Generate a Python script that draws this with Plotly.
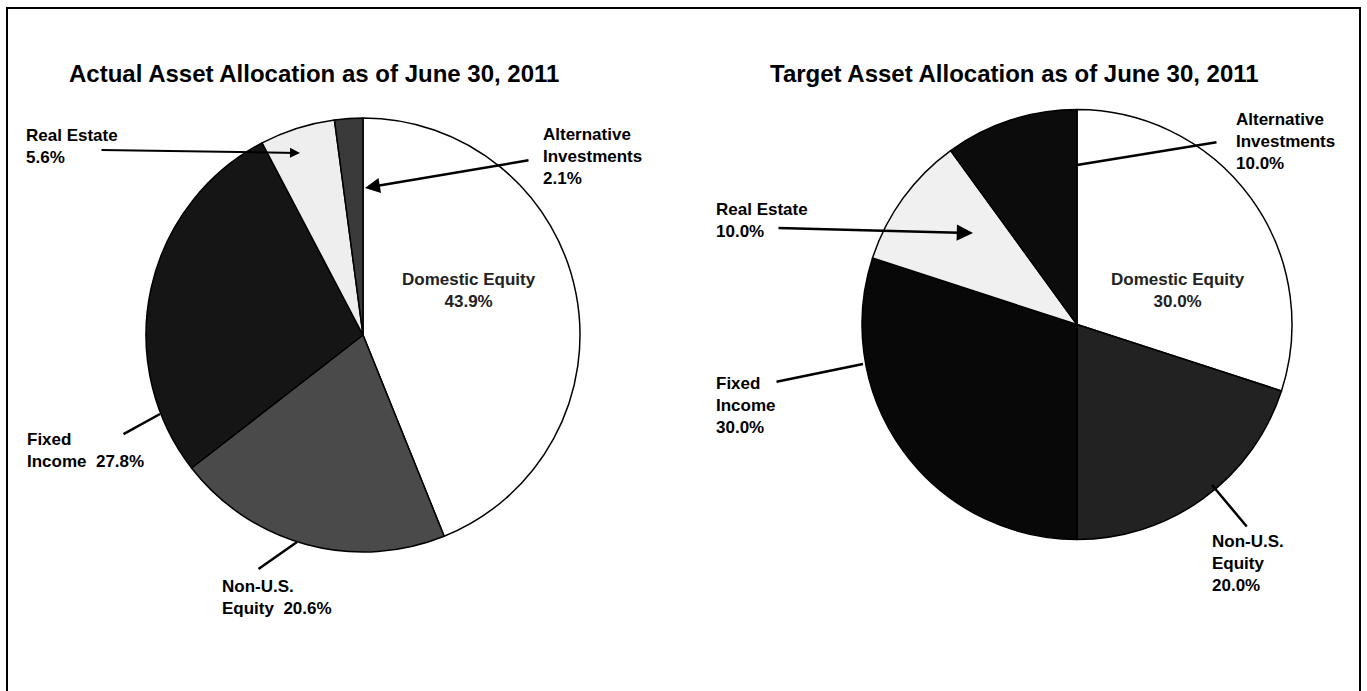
import plotly.graph_objects as go

# ---------------- data ----------------
categories = ["Domestic Equity", "Non-U.S. Equity", "Fixed Income", "Real Estate", "Alternative Investments"]
actual_values = [43.9, 20.6, 27.8, 5.6, 2.1]
target_values = [30.0, 20.0, 30.0, 10.0, 10.0]
actual_title = "Actual Asset Allocation as of June 30, 2011"
target_title = "Target Asset Allocation as of June 30, 2011"

# ---------------- styles ----------------
W, H = 1367, 691
actual_colors = ["#ffffff", "#4a4a4a", "#151515", "#eeeeee", "#3a3a3a"]
target_colors = ["#ffffff", "#222222", "#080808", "#f0f0f0", "#0c0c0c"]
FONT = "Liberation Sans, Arial, sans-serif"


def px(x):
    return x / W


def py(y):
    return 1 - y / H


fig = go.Figure()

fig.add_trace(go.Pie(
    labels=categories, values=actual_values, sort=False, direction="clockwise",
    rotation=0, textinfo="none", hoverinfo="label+percent",
    marker=dict(colors=actual_colors, line=dict(color="black", width=1.5)),
    domain=dict(x=[px(146), px(580)], y=[py(552), py(118)]),
    showlegend=False,
))
fig.add_trace(go.Pie(
    labels=categories, values=target_values, sort=False, direction="clockwise",
    rotation=0, textinfo="none", hoverinfo="label+percent",
    marker=dict(colors=target_colors, line=dict(color="black", width=1.5)),
    domain=dict(x=[px(862), px(1292)], y=[py(540), py(109)]),
    showlegend=False,
))

annotations = []


def text(x, y, s, xanchor="left", size=17, color="black", align="left"):
    annotations.append(dict(
        x=px(x), y=py(y), xref="paper", yref="paper", text=s, showarrow=False,
        xanchor=xanchor, yanchor="middle", align=align,
        font=dict(family=FONT, size=size, color=color),
    ))


def leader(tail, tip, head=0, size=1.0, width=2):
    annotations.append(dict(
        x=px(tip[0]), y=py(tip[1]), xref="paper", yref="paper", text="",
        showarrow=True, ax=tail[0] - tip[0], ay=tail[1] - tip[1],
        axref="pixel", ayref="pixel",
        arrowhead=head, arrowsize=size, arrowwidth=width, arrowcolor="black",
        standoff=0, startstandoff=0,
    ))


# titles
text(67, 74, "<b>" + actual_title + "</b>", size=24)
text(768, 73, "<b>" + target_title + "</b>", size=24)

# left chart labels
text(24, 147, "<b>Real Estate<br>5.6%</b>")
leader((100, 150), (300, 153), head=2, size=1.0, width=2)
text(541, 156, "<b>Alternative<br>Investments<br>2.1%</b>")
leader((530, 160), (365, 188), head=2, size=1.2, width=2.5)
text(469, 290, "<b>Domestic Equity<br>43.9%</b>", xanchor="center", align="center", color="#222222")
text(25, 450, "<b>Fixed<br>Income  27.8%</b>")
leader((122, 435), (160, 414), head=0, width=2.5)
text(220, 597, "<b>Non-U.S.<br>Equity  20.6%</b>")
leader((257, 570), (297, 542), head=0, width=2.5)

# right chart labels
text(1234, 142, "<b>Alternative<br>Investments<br>10.0%</b>")
leader((1218, 142), (1077, 165), head=0, width=2.5)
text(714, 220, "<b>Real Estate<br>10.0%</b>")
leader((777, 228), (973, 233), head=2, size=1.3, width=2.5)
text(1178, 290, "<b>Domestic Equity<br>30.0%</b>", xanchor="center", align="center", color="#222222")
text(714, 405, "<b>Fixed<br>Income<br>30.0%</b>")
leader((775, 382), (863, 364), head=0, width=2.5)
text(1210, 563, "<b>Non-U.S.<br>Equity<br>20.0%</b>")
leader((1248, 528), (1212, 485), head=0, width=2.5)

fig.update_layout(
    width=W, height=H,
    margin=dict(l=0, r=0, t=0, b=0),
    paper_bgcolor="white", plot_bgcolor="white",
    annotations=annotations,
    shapes=[dict(type="rect", xref="paper", yref="paper",
                 x0=px(7), x1=px(1360), y0=py(700), y1=py(8),
                 line=dict(color="black", width=2), fillcolor="rgba(0,0,0,0)")],
)

fig.write_html("out.html", config={"displayModeBar": False})
